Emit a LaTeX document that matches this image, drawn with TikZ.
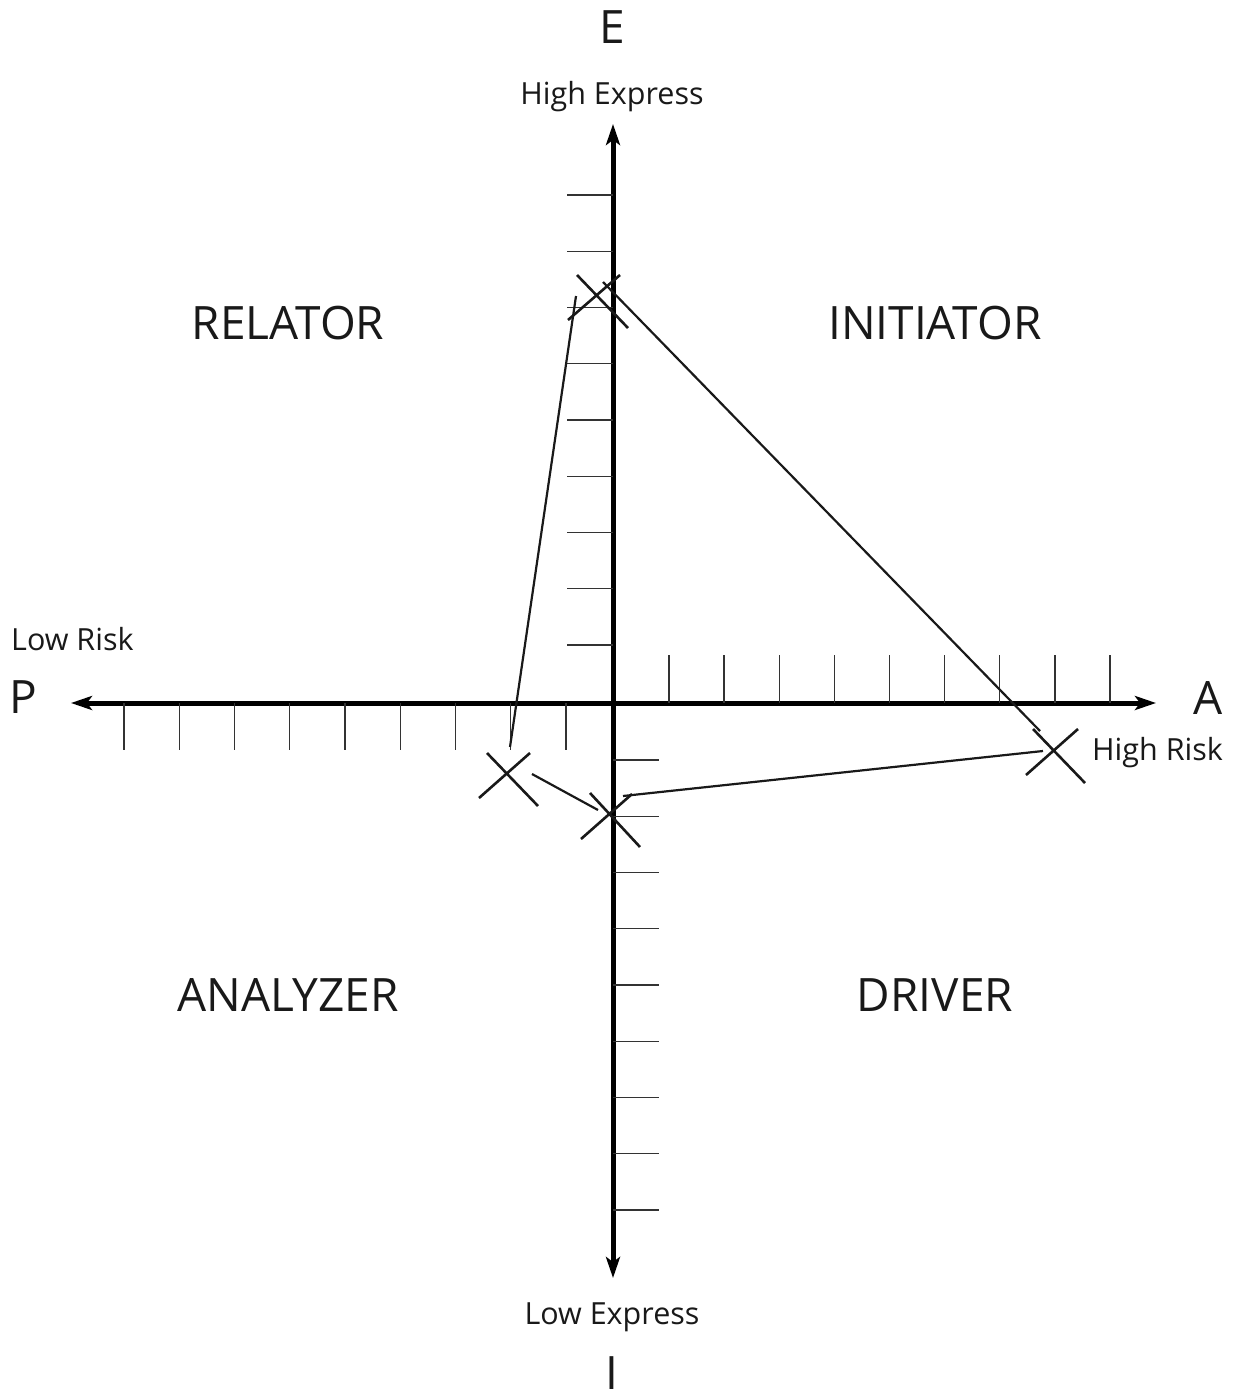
\documentclass[tikz,border=0pt]{standalone}
\usepackage{fontspec}
\setmainfont{Open Sans}
\usetikzlibrary{arrows.meta}
\begin{document}
\begin{tikzpicture}[x=1pt,y=-1pt,
  axis/.style={line width=5pt,{Stealth[length=21pt,width=14pt,inset=5pt]}-{Stealth[length=21pt,width=14pt,inset=5pt]}},
  tick/.style={line width=1.4pt,color=black!80},
  xmark/.style={line width=2.6pt,color=black!90},
  link/.style={line width=2.2pt,color=black!90},
  big/.style={font=\fontsize{46}{50}\selectfont,text=black!90,inner sep=0pt,anchor=base},
  small/.style={font=\fontsize{30.5}{34}\selectfont,text=black!90,inner sep=0pt,anchor=base}]
\useasboundingbox (0,0) rectangle (1236,1397);
% axes
\coordinate (Ptip) at (71,703);
\coordinate (Atip) at (1156,703);
\coordinate (Etip) at (613,124);
\coordinate (Itip) at (613,1278);
\draw[axis] (Ptip) -- (Atip);
\draw[axis] (Itip) -- (Etip);
% ticks
\foreach \k in {0,...,8}{
  \draw[tick] (567,{195+56.25*\k}) -- (613,{195+56.25*\k});
  \draw[tick] (613,{760+56.25*\k}) -- (659,{760+56.25*\k});
  \draw[tick] ({669+55.125*\k},655) -- ({669+55.125*\k},703);
  \draw[tick] ({124+55.25*\k},703) -- ({124+55.25*\k},750);
}
% X marks
\draw[xmark] (577,275) -- (628,328) (620,275) -- (568,320);
\draw[xmark] (487,753) -- (538,806) (530,753) -- (479,798);
\draw[xmark] (590,793) -- (640,847) (632,794) -- (581,839);
\draw[xmark] (1033,729) -- (1085,783) (1078,729) -- (1026,775);
% connecting lines
\coordinate (a1) at (603,282); \coordinate (a2) at (1040,731);
\coordinate (b1) at (576,296); \coordinate (b2) at (510,747);
\coordinate (c1) at (532,774); \coordinate (c2) at (598,810);
\coordinate (d1) at (623,796); \coordinate (d2) at (1043,751);
\draw[link] (a1) -- (a2);
\draw[link] (b1) -- (b2);
\draw[link] (c1) -- (c2);
\draw[link] (d1) -- (d2);
% labels
\node[big] (E) at (612,44) {E};
\node[small] (hexp) at (612,104) {High Express};
\node[big] (rel) at (288,339) {RELATOR};
\node[big] (ini) at (935,339) {INITIATOR};
\node[big] (ana) at (288,1011) {ANALYZER};
\node[big] (drv) at (935,1011) {DRIVER};
\node[small,anchor=base west] (lrisk) at (11,650) {Low Risk};
\node[big] (P) at (23,713) {P};
\node[big] (A) at (1208,714) {A};
\node[small,anchor=base west] (hrisk) at (1092,760) {High Risk};
\node[small] (lexp) at (612,1324) {Low Express};
\node[big] (I) at (612,1389) {I};
\end{tikzpicture}
\end{document}
